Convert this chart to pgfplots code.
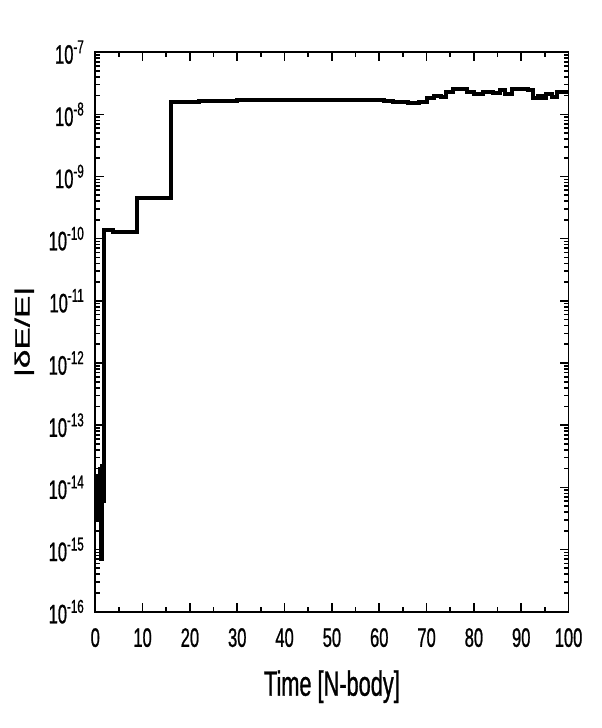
\documentclass[border=0pt]{standalone}
\usepackage{fontspec}
\setmainfont{Liberation Sans}[FakeStretch=0.62, FakeBold=0.8]
\newfontfamily\plainfont{Liberation Sans}[FakeBold=0.8]
\usepackage{pgfplots}
\pgfplotsset{compat=1.18}
\begin{document}
\begin{tikzpicture}
\begin{axis}[
  name=ax,
  scale only axis,
  width=236pt, height=279pt,
  ymode=log,
  xmin=0, xmax=100,
  ymin=1e-16, ymax=1e-7,
  xtick={0,10,...,100},
  minor xtick={5,15,...,95},
  ytick={1e-16,1e-15,1e-14,1e-13,1e-12,1e-11,1e-10,1e-9,1e-8,1e-7},
  yticklabels={10\textsuperscript{-16},10\textsuperscript{-15},10\textsuperscript{-14},10\textsuperscript{-13},10\textsuperscript{-12},10\textsuperscript{-11},10\textsuperscript{-10},10\textsuperscript{-9},10\textsuperscript{-8},10\textsuperscript{-7}},
  /pgf/number format/assume math mode=true,
  tick align=inside,
  major tick length=4.5pt,
  minor tick length=2.5pt,
  every tick/.style={black, line width=0.8pt},
  axis line style={line width=0.9pt},
  tick label style={font=\fontsize{13.3}{15}\selectfont},
  xticklabel style={yshift=-4.7pt},
  yticklabel style={xshift=-1.7pt},
  xlabel={Time [N-body]},
  ylabel={\scalebox{1}[0.62]{\plainfont\fontsize{16.7}{18}\selectfont |δE/E|}},
  xlabel style={font=\fontsize{17.5}{19}\selectfont, at={(axis description cs:0.5,-0.134)}, anchor=center},
  ylabel style={at={(axis description cs:-0.150,0.5)}, anchor=center},
]
\addplot[const plot, black, line width=2pt] coordinates {
(0,4e-15) (0.2,1e-14) (0.4,3e-15) (0.6,1.5e-14) (0.8,8e-15) (1.0,2e-14)
(1.2,7e-16) (1.45,2.2e-14) (1.7,6e-15) (1.9,1.4e-10)
(3.8,1.3e-10) (8.9,4.5e-10) (15.9,1.6e-8) (22,1.65e-8) (30,1.7e-8)
(61,1.65e-8) (63,1.6e-8) (66,1.5e-8) (68.5,1.6e-8) (70,1.8e-8)
(71.5,2.0e-8) (73,1.9e-8) (74,2.3e-8) (75.5,2.6e-8) (78.5,2.3e-8)
(80,2.1e-8) (82,2.3e-8) (84,2.2e-8) (85.5,2.5e-8) (86.5,2.1e-8)
(88,2.6e-8) (91.5,2.5e-8) (92.5,1.8e-8) (93.5,2.0e-8) (94.3,1.8e-8)
(95.3,2.1e-8) (96.5,1.9e-8) (97.5,2.3e-8) (100,2.2e-8)
};
\end{axis}
\pgfresetboundingbox
\path ([shift={(-47.5pt,-58pt)}]ax.south west) rectangle ([shift={(16.5pt,26pt)}]ax.north east);
\end{tikzpicture}
\end{document}
